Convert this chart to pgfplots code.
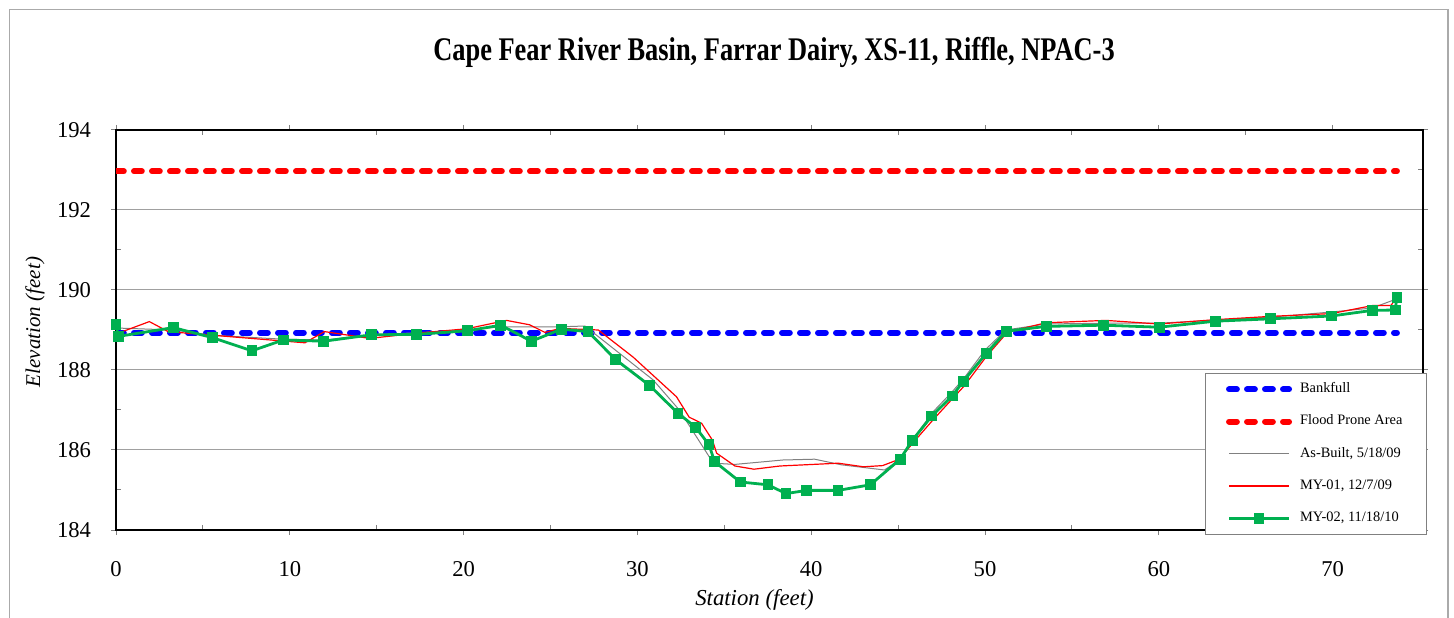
\documentclass[border=0pt]{standalone}
\usepackage{fontspec}
\setmainfont{Liberation Serif}
\usepackage{graphicx}
\usepackage{pgfplots}
\pgfplotsset{compat=1.18}
\definecolor{mygreen}{RGB}{0,176,80}
\definecolor{gridgray}{RGB}{160,160,160}
\definecolor{framegray}{RGB}{170,170,170}
\definecolor{linegray}{RGB}{128,128,128}
\begin{document}
\begin{tikzpicture}
\useasboundingbox (0,0) rectangle (727bp,309bp);
\draw[framegray, line width=0.6bp] (4.6bp,0) -- (4.6bp,304.4bp) -- (724bp,304.4bp) -- (724bp,0);
\node[font=\bfseries\fontsize{16.5bp}{18bp}\selectfont] at (387bp,283bp) {\scalebox{0.8}[1]{Cape Fear River Basin, Farrar Dairy, XS-11, Riffle, NPAC-3}};
\begin{axis}[
  at={(58bp,44bp)}, anchor=south west,
  scale only axis, width=653.5bp, height=200bp,
  xmin=0, xmax=75.2, ymin=184, ymax=194,
  xtick={0,10,...,70}, minor xtick={5,15,...,65},
  ytick={184,186,...,194}, minor ytick={185,187,...,193},
  tick align=outside, major tick length=2.5bp, minor tick length=-2.5bp,
  tick style={linegray, line width=0.5bp},
  axis line style={black, line width=1bp},
  ymajorgrids, grid style={gridgray, line width=0.5bp},
  /pgf/number format/assume math mode=true,
  ticklabel style={font=\fontsize{11.3bp}{13bp}\selectfont},
  xticklabel style={yshift=-9.5bp},
  yticklabel style={xshift=-6.5bp},
  xlabel={\textit{Station (feet)}}, ylabel={\textit{Elevation (feet)}},
  xlabel style={font=\fontsize{11.4bp}{13bp}\selectfont, at={(axis description cs:0.4885,-0.175)}, anchor=center},
  ylabel style={font=\fontsize{10.5bp}{12bp}\selectfont, at={(axis description cs:-0.062,0.52)}, anchor=center},
  legend image code/.code={\draw[mark repeat=2,mark phase=2,#1] plot coordinates {(0bp,0bp) (15bp,0bp) (30bp,0bp)};},
  legend style={at={(1.003,-0.0125)}, anchor=south east,
    draw=linegray, line width=0.5bp, fill=white,
    font=\fontsize{7.2bp}{8bp}\selectfont,
    inner xsep=10.5bp, inner ysep=3.3bp, row sep=6.4bp,
    nodes={inner sep=1.5bp, text height=5bp, text depth=1.7bp},
    /tikz/every odd column/.append style={column sep=2.5bp}},
  legend cell align=left,
]
\addplot[blue, line width=3bp, dash pattern=on 3.9bp off 5.1bp, line cap=round] coordinates {(0,188.93) (73.7,188.93)};
\addlegendentry{Bankfull}
\addplot[red, line width=3bp, dash pattern=on 3.9bp off 5.1bp, line cap=round] coordinates {(0,192.97) (73.7,192.97)};
\addlegendentry{Flood Prone Area}
\addplot[linegray, line width=0.5bp] coordinates {
(0,189.05) (3.3,189.0) (5.5,188.87) (9.62,188.77) (12,188.75) (14.7,188.88) (17.3,188.93)
(20.2,189.0) (22.08,189.08) (25.63,189.08) (26.98,189.1) (30.91,187.75) (32.41,187.0)
(34.37,185.67) (35.61,185.64) (38.37,185.75) (40.2,185.77) (41.73,185.63) (44.22,185.5)
(45.12,185.77) (45.9,186.3) (47.0,186.95) (48.1,187.45) (48.8,187.8) (50.0,188.5)
(51.2,189.0) (53.5,189.15) (56.9,189.17) (60.0,189.17) (63.3,189.25) (66.4,189.32)
(69.93,189.45) (72.28,189.55) (73.7,189.78)};
\addlegendentry{As-Built, 5/18/09}
\addplot[red, line width=0.6bp] coordinates {
(0,188.9) (1.92,189.21) (3.0,188.96) (10.87,188.68) (11.99,188.96) (14.6,188.79) (17.3,188.92)
(20.17,189.03) (22.47,189.24) (23.8,189.13) (24.68,188.94) (25.55,189.04) (27.75,189.0)
(29.76,188.32) (32.25,187.33) (32.98,186.82) (33.69,186.67) (34.31,186.25) (34.56,185.92)
(35.61,185.6) (36.71,185.52) (38.2,185.6) (41.56,185.67) (43.0,185.58) (44.11,185.61)
(45.07,185.77) (45.9,186.2) (47.0,186.75) (48.8,187.6) (50.1,188.35) (51.3,188.95)
(53.5,189.18) (56.96,189.24) (60.0,189.15) (63.3,189.26) (66.4,189.34) (69.93,189.41)
(72.28,189.61) (73.35,189.61) (73.7,189.82)};
\addlegendentry{MY-01, 12/7/09}
\addplot[mygreen, line width=1.4bp, mark=square*, mark size=2bp, mark options={solid}] coordinates {
(0,189.13) (0.13,188.84) (3.3,189.06) (5.54,188.81) (7.82,188.48) (9.62,188.75) (11.96,188.72)
(14.7,188.88) (17.29,188.89) (20.22,188.98) (22.14,189.12) (23.9,188.72) (25.63,189.02)
(27.16,188.96) (28.75,188.26) (30.71,187.61) (32.33,186.92) (33.35,186.57) (34.12,186.13)
(34.44,185.71) (35.92,185.2) (37.51,185.13) (38.55,184.91) (39.73,184.99) (41.54,184.99)
(43.4,185.13) (45.12,185.77) (45.81,186.24) (46.94,186.85) (48.11,187.35) (48.76,187.72)
(50.08,188.42) (51.23,188.97) (53.52,189.09) (56.82,189.12) (60.02,189.07) (63.24,189.22)
(66.44,189.28) (69.93,189.35) (72.28,189.49) (73.6,189.5) (73.7,189.82)};
\addlegendentry{MY-02, 11/18/10}
\end{axis}
\end{tikzpicture}
\end{document}
